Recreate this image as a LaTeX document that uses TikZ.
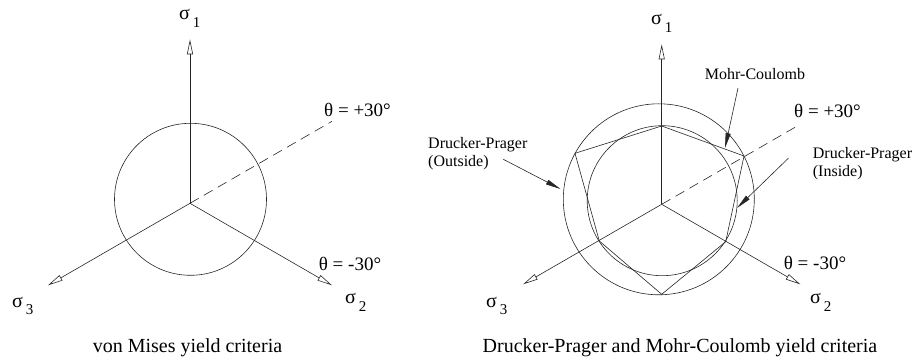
\documentclass[tikz,border=0pt]{standalone}
\usepackage{fontspec}
\setmainfont{Liberation Serif}
\usetikzlibrary{arrows.meta}
\tikzset{
  axis/.style={line width=0.6pt, draw=black!85, -{Triangle[open,length=15pt,width=6pt]}},
  ann/.style={line width=0.6pt, draw=black!85, -{Triangle[length=15pt,width=5pt]}},
  curve/.style={line width=0.6pt, draw=black!85},
  dashline/.style={line width=0.6pt, draw=black!85, dash pattern=on 10pt off 6pt},
  lbl/.style={font=\fontsize{16}{18}\selectfont, inner sep=0pt, align=left, anchor=north west},
  thetalbl/.style={font=\fontsize{19}{21}\selectfont, inner sep=0pt, anchor=base},
  caplbl/.style={font=\fontsize{20}{22}\selectfont, inner sep=0pt, anchor=base},
  siglbl/.style={font=\fontsize{20}{22}\selectfont, inner sep=0pt, anchor=base west},
}
\newcommand{\sigl}[1]{σ\hspace{3pt}\raisebox{-8pt}{\fontsize{15}{15}\selectfont #1}}
\begin{document}
\begin{tikzpicture}[x=1pt,y=-1pt]
\path[use as bounding box] (0,0) rectangle (918,363);

% ---------- left: von Mises ----------
\coordinate (O1) at (190,203.3);
\coordinate (A1) at (190,39.3);
\coordinate (A2) at (332,285.3);
\coordinate (A3) at (48,285.3);
\coordinate (D1) at (332,121.3);
\draw[curve] (190.5,199.3) circle[radius=76];
\draw[axis] (O1) -- (A1);
\draw[axis] (O1) -- (A2);
\draw[axis] (O1) -- (A3);
\draw[dashline] (O1) -- (D1);
\node[siglbl] (s1a) at (179,20) {\sigl{1}};
\node[siglbl] (s2a) at (345,304) {\sigl{2}};
\node[siglbl] (s3a) at (12,307) {\sigl{3}};
\node[thetalbl] (tpa) at (357.5,117) {θ = +30°};
\node[thetalbl] (tma) at (350,271) {θ = -30°};
\node[caplbl] (capa) at (187.5,352) {von Mises yield criteria};

% ---------- right: Drucker-Prager and Mohr-Coulomb ----------
\coordinate (O2) at (661.7,204.3);
\coordinate (B1) at (661.7,44.3);
\coordinate (B2) at (800.3,284.3);
\coordinate (B3) at (523.1,284.3);
\coordinate (D2) at (798.5,125.3);
\draw[curve] (658.8,199.3) circle[radius=95.5];
\draw[curve] (662.2,200.7) circle[radius=75];
\coordinate (H1) at (661.7,126);
\coordinate (H2) at (744,156);
\coordinate (H3) at (725.7,241.7);
\coordinate (H4) at (661.7,294.3);
\coordinate (H5) at (599.3,241);
\coordinate (H6) at (575,153.3);
\draw[curve] (H1) -- (H2) -- (H3) -- (H4) -- (H5) -- (H6) -- cycle;
\draw[axis] (O2) -- (B1);
\draw[axis] (O2) -- (B2);
\draw[axis] (O2) -- (B3);
\draw[dashline] (O2) -- (D2);
\node[siglbl] (s1b) at (651,25) {\sigl{1}};
\node[siglbl] (s2b) at (810,304) {\sigl{2}};
\node[siglbl] (s3b) at (486,307) {\sigl{3}};
\node[thetalbl] (tpb) at (827.5,118) {θ = +30°};
\node[thetalbl] (tmb) at (815,270) {θ = -30°};
\node[caplbl] (capb) at (680,352) {Drucker-Prager and Mohr-Coulomb yield criteria};

\node[font=\fontsize{16}{18}\selectfont, inner sep=0pt, anchor=base] (mc) at (755,80) {Mohr-Coulomb};
\node[lbl] (dpi) at (812.7,147.5) {Drucker-Prager\\(Inside)};
\node[lbl] (dpo) at (428,137) {Drucker-Prager\\(Outside)};
\coordinate (mcs) at (738,88);
\coordinate (mct) at (725,148);
\coordinate (dpis) at (788.3,158.3);
\coordinate (dpit) at (737,208);
\coordinate (dpos) at (503.3,159.3);
\coordinate (dpot) at (560.5,189);
\draw[ann] (mcs) -- (mct);
\draw[ann] (dpis) -- (dpit);
\draw[ann] (dpos) -- (dpot);
\end{tikzpicture}
\end{document}
